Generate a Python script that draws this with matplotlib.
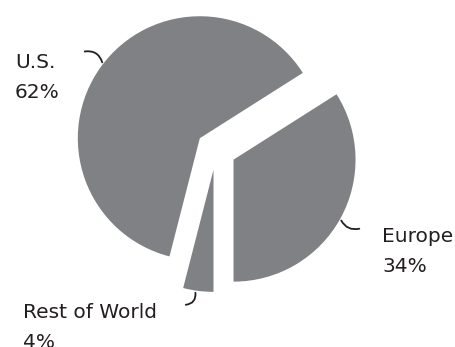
import matplotlib
matplotlib.use("Agg")
from matplotlib import pyplot as plt

# data
regions = ["U.S.", "Rest of World", "Europe"]
shares = [62, 4, 34]
pct_labels = ["62%", "4%", "34%"]

W, H = 456, 347          # output size in pixels
pie_color = "#808185"
text_color = "#231f20"


def fig_xy(px, py):
    # picture pixels (top-left origin) -> figure fraction
    return px / W, 1 - py / H


fig = plt.figure(figsize=(W / 100, H / 100), dpi=100)
ax = fig.add_axes([0, 0, 1, 1])

# pie centred at (216,150) px, radius 122 px
r_px = 122.0
cx, cy = 216.0, 150.0
ax.pie(shares, colors=[pie_color] * 3, startangle=32.4, counterclock=True,
       explode=[0.164] * 3, radius=1.0, center=(0, 0),
       wedgeprops=dict(linewidth=0))
ax.set_xlim(-cx / r_px, (W - cx) / r_px)
ax.set_ylim(-(H - cy) / r_px, cy / r_px)
ax.axis("off")

# labels: name on one line, share below it
label_pos = [(15, 68), (23, 318), (382, 241.5)]   # left, first baseline (px)
line_gap = 30
for name, pct, (px, py) in zip(regions, pct_labels, label_pos):
    for i, txt in enumerate([name, pct]):
        x, y = fig_xy(px, py + i * line_gap)
        fig.text(x, y, txt, ha="left", va="baseline", fontsize=14.5,
                 family="DejaVu Sans", color=text_color)

# curved leader lines
leaders = [((82, 52), (103, 65), -0.5),
           ((340, 218), (362, 228), 0.45),
           ((195, 290), (183, 305), -0.6)]
for p0, p1, rad in leaders:
    ax.annotate("", xy=fig_xy(*p1), xytext=fig_xy(*p0),
                xycoords="figure fraction", textcoords="figure fraction",
                arrowprops=dict(arrowstyle="-", color=text_color, lw=1.3,
                                connectionstyle="arc3,rad=%s" % rad))

fig.savefig("out.png", dpi=100)
